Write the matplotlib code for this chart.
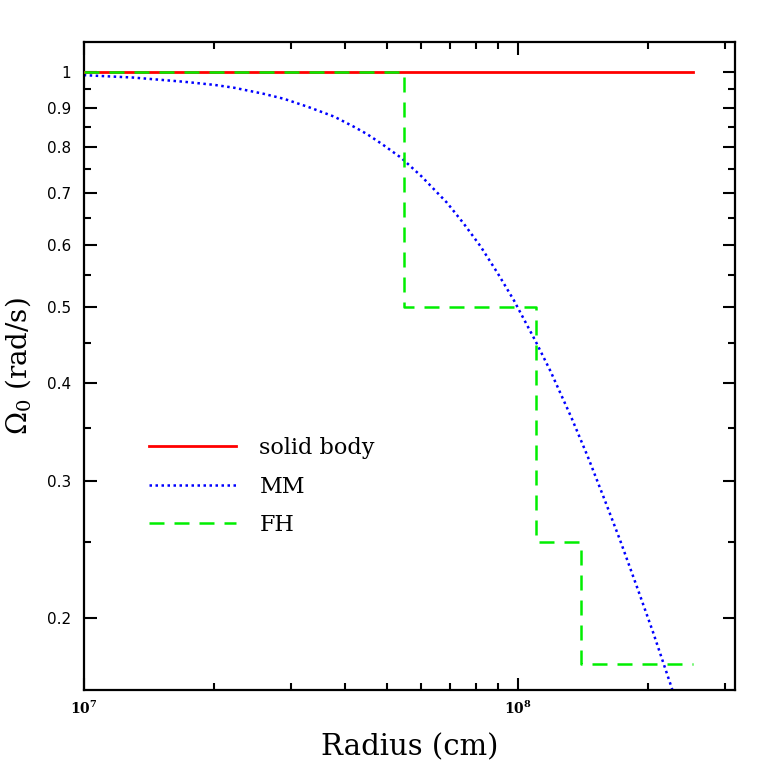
import numpy as np
import matplotlib
matplotlib.use('Agg')
import matplotlib.pyplot as plt
from matplotlib.ticker import FixedLocator, FixedFormatter, NullFormatter

plt.rcParams['mathtext.fontset'] = 'dejavuserif'

# solid body rotation
r_solid = [1e7, 2.54e8]
w_solid = [1.0, 1.0]

# MM profile
r_mm = [1e7, 1.3e7, 1.7e7, 2e7, 2.22e7, 2.6e7, 2.9e7, 3.3e7, 3.78e7, 4.2e7, 4.5e7,
        4.87e7, 5.39e7, 6e7, 6.87e7, 7.5e7, 8.21e7, 9e7, 9.8e7, 1.1e8, 1.19e8,
        1.33e8, 1.45e8, 1.58e8, 1.72e8, 1.89e8, 2.05e8, 2.28e8]
w_mm = [0.990, 0.983, 0.971, 0.962, 0.954, 0.937, 0.923, 0.901, 0.876, 0.850, 0.832,
        0.808, 0.776, 0.735, 0.680, 0.640, 0.598, 0.552, 0.510, 0.452, 0.414,
        0.361, 0.322, 0.285, 0.252, 0.218, 0.192, 0.161]

# FH step profile
r_fh = [1e7, 5.46e7, 5.46e7, 1.1e8, 1.1e8, 1.4e8, 1.4e8, 2.54e8]
w_fh = [1.0, 1.0, 0.5, 0.5, 0.25, 0.25, 0.175, 0.175]

y_major = [0.2, 0.3, 0.4, 0.5, 0.6, 0.7, 0.8, 0.9, 1.0]
y_major_labels = ['0.2', '0.3', '0.4', '0.5', '0.6', '0.7', '0.8', '0.9', '1']
y_minor = [0.25, 0.35, 0.45, 0.55, 0.65, 0.75, 0.85, 0.95]
x_major = [1e7, 1e8]
x_major_labels = [r'$\mathbf{10^{7}}$', r'$\mathbf{10^{8}}$']
x_minor = [2e7, 3e7, 4e7, 5e7, 6e7, 7e7, 8e7, 9e7, 2e8, 3e8]

serif = ['DejaVu Serif']

fig = plt.figure(figsize=(7.75, 7.75), dpi=100)
ax = fig.add_axes([0.108, 0.110, 0.840, 0.836])

ax.plot(r_solid, w_solid, color='#ff0000', lw=2.0, label='solid body', zorder=3)
ax.plot(r_mm, w_mm, color='#0000ff', lw=1.8, linestyle=(0, (1, 1.4)), label='MM', zorder=2)
ax.plot(r_fh, w_fh, color='#00ee00', lw=1.8, linestyle=(0, (6, 4)), label='FH', zorder=4)

ax.set_xscale('log')
ax.set_yscale('log')
ax.set_xlim(1e7, 10**8.5)
ax.set_ylim(0.162, 1.092)

ax.yaxis.set_major_locator(FixedLocator(y_major))
ax.yaxis.set_major_formatter(FixedFormatter(y_major_labels))
ax.yaxis.set_minor_locator(FixedLocator(y_minor))
ax.yaxis.set_minor_formatter(NullFormatter())
ax.xaxis.set_major_locator(FixedLocator(x_major))
ax.xaxis.set_major_formatter(FixedFormatter(x_major_labels))
ax.xaxis.set_minor_locator(FixedLocator(x_minor))
ax.xaxis.set_minor_formatter(NullFormatter())

ax.tick_params(which='both', direction='in', top=True, right=True, width=1.5, colors='black')
ax.tick_params(which='major', length=9)
ax.tick_params(which='minor', length=5)
ax.tick_params(axis='y', which='major', labelsize=11, pad=9)
ax.tick_params(axis='x', which='major', labelsize=10, pad=7)
for s in ax.spines.values():
    s.set_linewidth(1.6)

ax.set_xlabel('Radius (cm)', family=serif, fontsize=21, labelpad=12)
ax.set_ylabel(r'$\Omega_0$ (rad/s)', family=serif, fontsize=20, labelpad=10)

leg = ax.legend(loc='upper left', bbox_to_anchor=(0.101, 0.390), frameon=False,
                borderpad=0, borderaxespad=0,
                handlelength=3.9, handletextpad=1.05, labelspacing=0.74,
                prop={'family': serif, 'size': 16})

fig.savefig('out.png', dpi=100)
